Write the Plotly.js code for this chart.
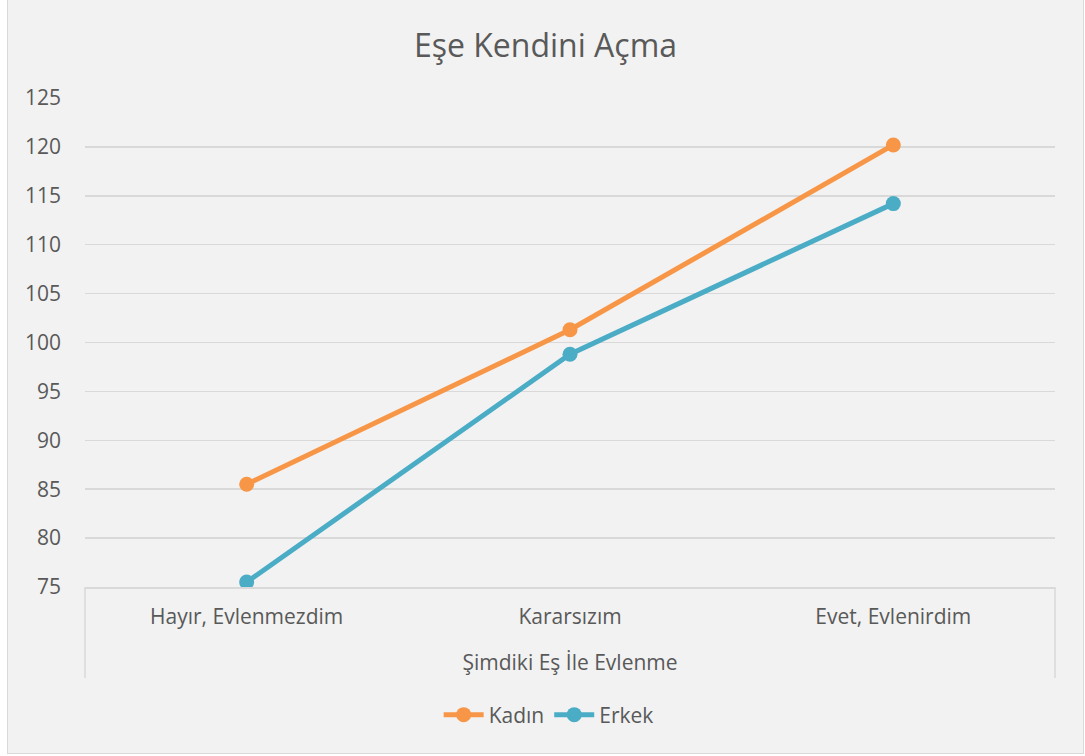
<!DOCTYPE html>
<html>
<head>
<meta charset="utf-8">
<script src="https://cdn.plot.ly/plotly-3.0.1.min.js"></script>
<style>
  html, body { margin: 0; padding: 0; background: #ffffff; }
  #chart { position: absolute; left: 7px; top: -1px; width: 1077px; height: 755px;
           box-sizing: border-box; border: 1px solid #d9d9d9; background: #f2f2f2; }
</style>
</head>
<body>
<div id="chart"></div>
<script>
const categories = ["Hayır, Evlenmezdim", "Kararsızım", "Evet, Evlenirdim"];
const kadin = [85.5, 101.3, 120.2];
const erkek = [75.5, 98.8, 114.2];
const seriesNames = ["Kadın", "Erkek"];
const yTicks = [75, 80, 85, 90, 95, 100, 105, 110, 115, 120, 125];

const FONT = "'Open Sans', 'DejaVu Sans', sans-serif";
const TXT = "#595959";

const traces = [
  { x: categories, y: kadin, name: seriesNames[0], type: "scatter", mode: "lines+markers",
    line: { color: "#F79646", width: 5 }, marker: { color: "#F79646", size: 15 } },
  { x: categories, y: erkek, name: seriesNames[1], type: "scatter", mode: "lines+markers",
    line: { color: "#4BACC6", width: 5 }, marker: { color: "#4BACC6", size: 15 } }
];

const boxH = 489;
const layout = {
  width: 1075, height: 753,
  margin: { l: 77, r: 28, t: 98, b: 166, pad: 0 },
  paper_bgcolor: "#f2f2f2", plot_bgcolor: "#f2f2f2",
  font: { family: FONT, color: TXT },
  title: { text: "Eşe Kendini Açma", font: { family: FONT, size: 32, color: TXT },
           x: 0.5, xanchor: "center", y: 1 - 46 / 753, yanchor: "middle", yref: "container" },
  xaxis: {
    type: "category", range: [-0.5, 2.5], showgrid: false,
    showline: true, linecolor: "#d9d9d9", linewidth: 1.5,
    ticks: "", ticklabelstandoff: 10, tickfont: { family: FONT, size: 21, color: TXT },
    title: { text: "Şimdiki Eş İle Evlenme", font: { family: FONT, size: 21, color: TXT }, standoff: 26 },
    fixedrange: true
  },
  yaxis: {
    range: [75, 125], tickvals: yTicks, showgrid: true, gridcolor: "#d9d9d9", gridwidth: 1.5,
    zeroline: false, showline: false, ticks: "", ticklabelstandoff: 23,
    tickfont: { family: FONT, size: 21, color: TXT }, fixedrange: true
  },
  legend: { orientation: "h", x: 0.478, xanchor: "center", y: (587 - 715) / boxH, yanchor: "middle",
            font: { family: FONT, size: 21, color: TXT }, bgcolor: "rgba(0,0,0,0)", itemwidth: 40 },
  shapes: [
    { type: "line", xref: "paper", yref: "paper", x0: 0, x1: 0, y0: 0, y1: -(678 - 587) / boxH,
      line: { color: "#d9d9d9", width: 1.5 } },
    { type: "line", xref: "paper", yref: "paper", x0: 1, x1: 1, y0: 0, y1: -(678 - 587) / boxH,
      line: { color: "#d9d9d9", width: 1.5 } }
  ],
  showlegend: true
};

Plotly.newPlot("chart", traces, layout, { displayModeBar: false, staticPlot: true });
</script>
</body>
</html>
